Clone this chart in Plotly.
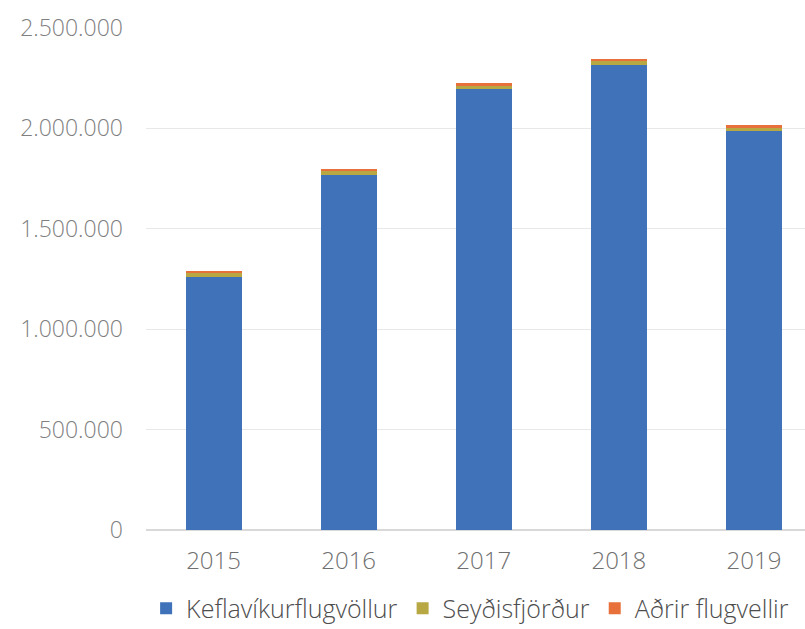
import plotly.graph_objects as go

years = ["2015", "2016", "2017", "2018", "2019"]
keflavik = [1262000, 1768000, 2195000, 2316000, 1986000]
seydisfjordur = [19000, 20000, 21000, 20000, 16000]
adrir = [6000, 7000, 8000, 9000, 14000]

series = [
    ("Keflavíkurflugvöllur", keflavik, "#3F72B8"),
    ("Seyðisfjörður", seydisfjordur, "#B7A844"),
    ("Aðrir flugvellir", adrir, "#E8703A"),
]

fig = go.Figure()
for name, vals, col in series:
    fig.add_trace(go.Bar(x=years, y=vals, name=name, marker=dict(color=col, line=dict(width=0))))

font_family = "'Open Sans', Lato, sans-serif"
fig.update_layout(
    barmode="stack",
    bargap=0.586,
    width=805, height=629,
    margin=dict(l=146, r=0, t=28, b=99, autoexpand=False),
    paper_bgcolor="white", plot_bgcolor="white",
    separators=",.",
    font=dict(family=font_family, color="#7f7f7f", size=20, weight=300),
    yaxis=dict(range=[0, 2500000], dtick=500000, tickformat=",d", automargin=False,
               gridcolor="#e8e8e8", zeroline=True, zerolinecolor="#d9d9d9",
               tickfont=dict(size=23, color="#7f7f7f", weight=300), ticks="", ticklabelstandoff=22),
    xaxis=dict(tickfont=dict(size=24, color="#6f6f6f", weight=300), ticks="", showline=False,
               automargin=False, ticklabelstandoff=14, range=[-0.5, 4.378]),
    legend=dict(orientation="h", xref="container", x=0.584, xanchor="center",
                yref="container", y=0.069, yanchor="top",
                font=dict(size=25, color="#4d4d4d", weight=300), itemwidth=30, traceorder="normal"),
)
fig.write_html("out.html", config={"displayModeBar": False},
               post_script="document.body.style.margin='0';document.body.style.overflow='hidden';")
